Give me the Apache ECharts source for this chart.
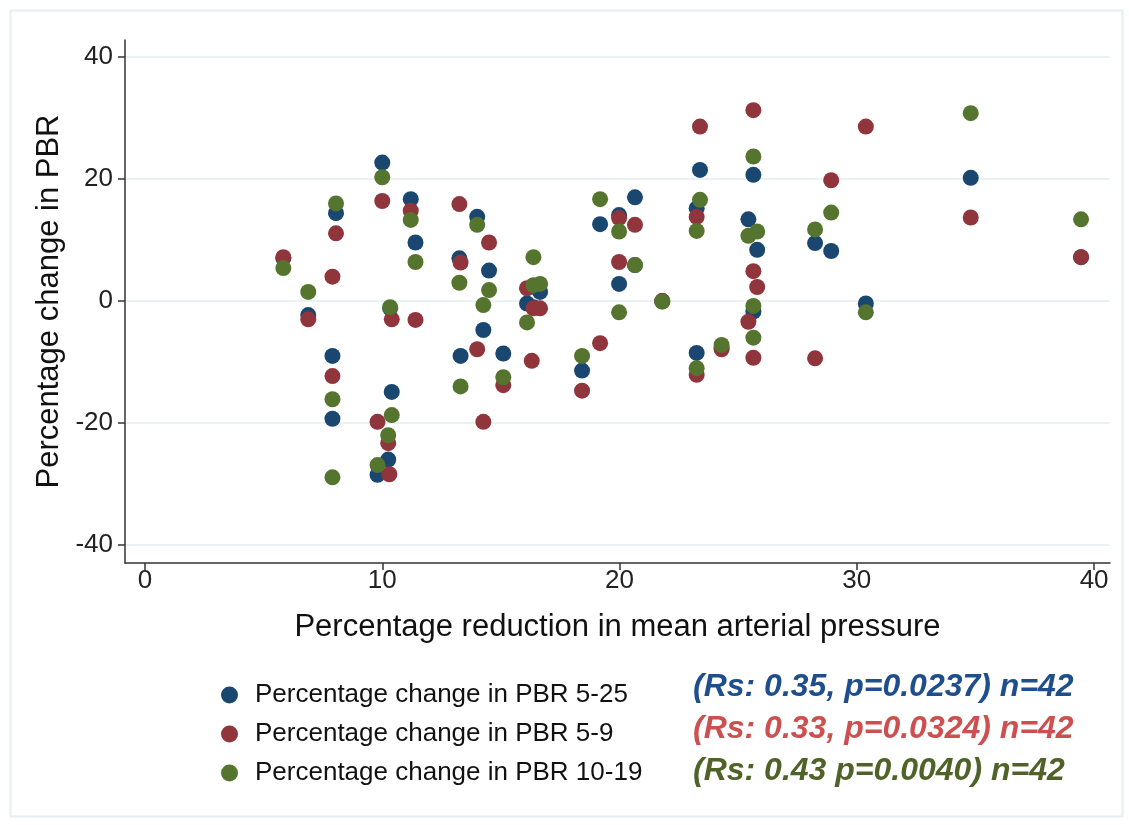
<!DOCTYPE html>
<html>
<head>
<meta charset="utf-8">
<script src="https://cdn.jsdelivr.net/npm/echarts@6/dist/echarts.min.js"></script>
<style>
  html, body { margin: 0; padding: 0; background: #fff; }
  #chart { width: 1129px; height: 825px; }
</style>
</head>
<body>
<div id="chart"></div>
<script>
// data
const xTicks = [0, 10, 20, 30, 40];
const yTicks = [-40, -20, 0, 20, 40];

const names = [
  "Percentage change in PBR 5-25",
  "Percentage change in PBR 5-9",
  "Percentage change in PBR 10-19"
];
const notes = [
  "(Rs: 0.35, p=0.0237) n=42",
  "(Rs: 0.33, p=0.0324) n=42",
  "(Rs: 0.43 p=0.0040) n=42"
];

const blueX = [5.83, 6.88, 8.05, 7.9, 7.9, 10, 9.8, 10.25, 10.4, 10.33, 11.2, 11.4, 14.0, 13.25,
  14.5, 14.26, 13.3, 15.1, 16.65, 16.1, 16.37, 16.37, 18.42, 19.18, 20.65, 19.98, 19.98, 21.8,
  23.39, 25.64, 23.25, 25.43, 25.8, 28.24, 28.92, 25.64, 30.38, 23.25, 24.3, 34.8, 39.45, 20.65];
const blueY = [7.0, -2.3, 14.4, -9.0, -19.3, 22.7, -28.5, -26.0, -14.9, -1.2, 16.7, 9.6, 13.8, 7.0,
  5.0, -4.75, -9.0, -8.6, 1.5, -0.4, 2.4, -1.0, -11.4, 12.6, 17.0, 14.1, 2.8, 0,
  21.5, 20.7, 15.2, 13.4, 8.4, 9.5, 8.2, -1.75, -0.4, -8.5, -7.6, 20.2, 7.2, 5.9];

const redX = [5.83, 6.88, 8.05, 7.9, 7.9, 10, 11.2, 10.4, 11.4, 9.8, 10.25, 10.3, 13.25, 14.5,
  13.3, 14.0, 14.26, 15.1, 16.1, 16.37, 16.65, 16.3, 18.42, 19.18, 19.98, 20.65, 19.98, 25.64,
  23.39, 30.38, 28.92, 23.25, 25.64, 25.8, 25.43, 25.64, 28.24, 23.25, 24.3, 34.8, 39.45, 21.8];
const redY = [7.2, -3.0, 11.1, 4.0, -12.3, 16.4, 14.8, -3.0, -3.1, -19.8, -23.3, -28.4, 15.9, 9.6,
  6.3, -7.9, -19.8, -13.8, 2.1, -1.2, -1.2, -9.8, -14.7, -6.9, 13.6, 12.5, 6.4, 31.3,
  28.6, 28.6, 19.8, 13.8, 4.9, 2.3, -3.4, -9.3, -9.4, -12.1, -7.9, 13.7, 7.2, 0];

const greenX = [5.83, 6.88, 8.05, 7.9, 7.9, 10, 11.2, 11.4, 10.33, 10.4, 10.25, 9.8, 14.0, 13.25,
  14.5, 14.26, 13.3, 15.1, 16.37, 16.37, 16.65, 16.1, 18.42, 19.18, 19.98, 20.65, 19.98, 21.8,
  25.64, 23.39, 23.25, 25.43, 25.8, 28.92, 28.24, 25.64, 25.64, 30.38, 23.25, 24.3, 34.8, 39.45];
const greenY = [5.4, 1.5, 16.0, -16.1, -28.9, 20.3, 13.3, 6.4, -1.0, -18.7, -22.0, -26.9, 12.5, 3.0,
  1.8, -0.66, -14.0, -12.5, 7.2, 2.6, 2.8, -3.5, -9.0, 16.7, 11.4, 5.9, -1.85, -0.1,
  23.7, 16.6, 11.5, 10.7, 11.4, 14.5, 11.75, -0.8, -6.0, -1.85, -11.0, -7.2, 30.8, 13.4];

const dotColors = ["#1a476f", "#90353b", "#55752f"];
const noteColors = ["#1f4e8c", "#cd5050", "#4f6228"];

function pairs(xs, ys) {
  return xs.map((x, i) => [x, ys[i]]);
}

const chart = echarts.init(document.getElementById("chart"));
const font = "Liberation Sans, Arial, sans-serif";

const seriesData = [pairs(blueX, blueY), pairs(redX, redY), pairs(greenX, greenY)];
const seriesList = seriesData.map((d, i) => ({
  name: names[i],
  type: "scatter",
  symbol: "circle",
  symbolSize: 16,
  itemStyle: { color: dotColors[i], opacity: 1 },
  emphasis: { disabled: true },
  data: d
}));

const option = {
  backgroundColor: "#fff",
  animation: false,
  textStyle: { fontFamily: font },
  grid: { left: 125, right: 19, top: 40, bottom: 262, containLabel: false },
  xAxis: {
    type: "value",
    min: -0.843,
    max: 40.67,
    name: "Percentage reduction in mean arterial pressure",
    nameLocation: "middle",
    nameGap: 49,
    nameTextStyle: { fontSize: 31, color: "#111", fontFamily: font },
    axisLine: { onZero: false, lineStyle: { color: "#333", width: 1.5 } },
    axisTick: { show: true, inside: false, length: 7, customValues: xTicks, lineStyle: { color: "#333", width: 1.5 } },
    axisLabel: { customValues: xTicks, fontSize: 26, color: "#222", margin: 5, fontFamily: font },
    splitLine: { show: false }
  },
  yAxis: {
    type: "value",
    min: -42.95,
    max: 42.8,
    name: "Percentage change in PBR",
    nameLocation: "middle",
    nameRotate: 90,
    nameGap: 55,
    nameTextStyle: { fontSize: 31, color: "#111", fontFamily: font },
    axisLine: { show: true, onZero: false, lineStyle: { color: "#333", width: 1.5 } },
    axisTick: { show: true, inside: false, length: 7, customValues: yTicks, lineStyle: { color: "#333", width: 1.5 } },
    axisLabel: { customValues: yTicks, fontSize: 26, color: "#222", margin: 12, fontFamily: font },
    splitLine: { show: true, lineStyle: { color: "#eaf2f4", width: 2 } }
  },
  legend: {
    orient: "vertical",
    left: 216,
    top: 677,
    icon: "circle",
    itemWidth: 17,
    itemHeight: 17,
    itemGap: 13,
    data: names,
    selectedMode: false,
    textStyle: { fontSize: 26, color: "#111", fontFamily: font, padding: [0, 0, 0, 12] }
  },
  graphic: [
    {
      type: "rect",
      left: 8, top: 8,
      shape: { width: 1112, height: 806 },
      style: { fill: "none", stroke: "#e8eef0", lineWidth: 2 },
      silent: true
    }
  ].concat(notes.map((t, i) => ({
    type: "text",
    left: 693,
    top: 671 + i * 42,
    style: {
      text: t,
      fill: noteColors[i],
      font: "italic bold 32px " + font
    }
  }))),
  series: seriesList
};

chart.setOption(option);
</script>
</body>
</html>
